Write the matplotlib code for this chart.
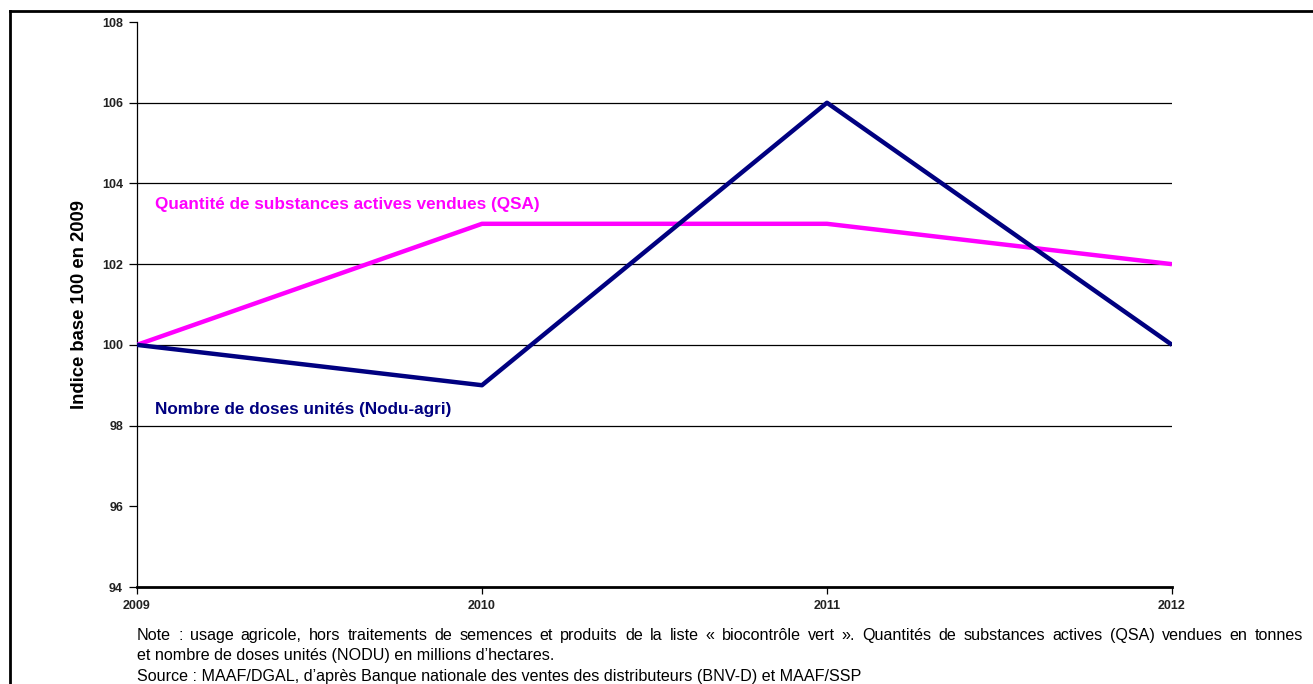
import matplotlib
matplotlib.use("Agg")
import matplotlib.pyplot as plt
from matplotlib.lines import Line2D

plt.rcParams['font.family'] = ['Liberation Sans', 'DejaVu Sans']

years = [2009, 2010, 2011, 2012]
qsa = [100, 103, 103, 102]
nodu = [100, 99, 106, 100]
y_ticks = [94, 96, 98, 100, 102, 104, 106, 108]
grid_levels = [98, 100, 102, 104, 106]

qsa_label = "Quantité de substances actives vendues (QSA)"
nodu_label = "Nombre de doses unités (Nodu-agri)"
note_lines = [
    "Note : usage agricole, hors traitements de semences et produits de la liste « biocontrôle vert ». "
    "Quantités de substances actives (QSA) vendues en tonnes",
    "et nombre de doses unités (NODU) en millions d’hectares.",
    "Source : MAAF/DGAL, d’après Banque nationale des ventes des distributeurs (BNV-D) et MAAF/SSP",
]

QSA_COLOR = "#FF00FF"
NODU_COLOR = "#000080"

W, H = 1313, 684
fig = plt.figure(figsize=(W / 100, H / 100), dpi=100)
ax = fig.add_axes([0.1043, 0.1418, 0.7883, 0.826])

for g in grid_levels:
    ax.axhline(g, color="black", lw=0.9, zorder=1)

ax.plot(years, qsa, color=QSA_COLOR, lw=3.2, solid_capstyle="butt", zorder=3)
ax.plot(years, nodu, color=NODU_COLOR, lw=3.2, solid_capstyle="butt", zorder=3)

ax.set_xlim(2009, 2012)
ax.set_ylim(94, 108)
ax.set_xticks(years)
ax.set_xticklabels([str(y) for y in years], fontsize=9, fontweight="bold", color="#222222")
ax.set_yticks(y_ticks)
ax.set_yticklabels([str(v) for v in y_ticks], fontsize=9, fontweight="bold", color="#222222")
ax.tick_params(axis="y", direction="out", length=6, width=0.9, pad=4)
ax.tick_params(axis="x", direction="out", length=5, width=0.9, pad=4)

for side in ("top", "right"):
    ax.spines[side].set_visible(False)
ax.spines["left"].set_linewidth(0.9)
ax.spines["bottom"].set_linewidth(2.0)

ax.set_ylabel("Indice base 100 en 2009", fontsize=13.3, fontweight="bold", labelpad=10)

ax.text(2009.052, 103.49, qsa_label, color=QSA_COLOR, fontsize=12.3,
        fontweight="bold", va="center", ha="left")
ax.text(2009.052, 98.41, nodu_label, color=NODU_COLOR, fontsize=12.3,
        fontweight="bold", va="center", ha="left")

# notes under the chart; the first line is justified to the right margin
note_size = 11.6
left_px, right_px = 137, 1303
baseline_px = [640, 660, 681]
renderer = fig.canvas.get_renderer()

words = note_lines[0].split(" ")
space_w = fig.text(0, 0, "a a", fontsize=note_size).get_window_extent(renderer).width
space_w -= 2 * fig.text(0, 0, "a", fontsize=note_size).get_window_extent(renderer).width
for t in list(fig.texts):
    t.remove()

word_artists = []
widths = []
for w in words:
    t = fig.text(0, 0, w, fontsize=note_size, ha="left", va="baseline", color="black")
    widths.append(t.get_window_extent(renderer).width)
    word_artists.append(t)
gap = (right_px - left_px - sum(widths)) / (len(words) - 1)
x = left_px
for t, wd in zip(word_artists, widths):
    t.set_position((x / W, 1 - baseline_px[0] / H))
    x += wd + gap

for line, ypx in zip(note_lines[1:], baseline_px[1:]):
    fig.text(left_px / W, 1 - ypx / H, line, fontsize=note_size,
             ha="left", va="baseline", color="black")

# frame around the figure (top and left edges)
fig.add_artist(Line2D([10 / W, 1.0], [1 - 11 / H, 1 - 11 / H],
                      transform=fig.transFigure, color="black", lw=2))
fig.add_artist(Line2D([10 / W, 10 / W], [0.0, 1 - 11 / H],
                      transform=fig.transFigure, color="black", lw=2))

fig.savefig("out.png", dpi=100)
